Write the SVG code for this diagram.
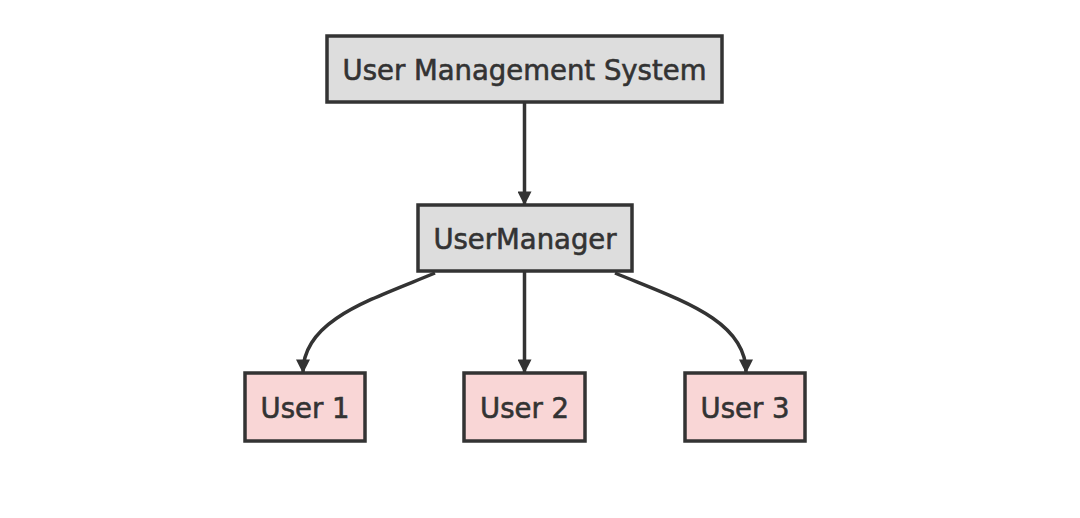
<svg xmlns="http://www.w3.org/2000/svg" width="1080" height="518" viewBox="0 0 1080 518">
<style>
.node rect{stroke:#333;stroke-width:3.5px}
.sys rect{fill:#ddd}
.usr rect{fill:#f9d6d6}
.node text{font-family:"DejaVu Sans",sans-serif;font-size:27.5px;fill:#333;stroke:#333;stroke-width:0.6px;text-anchor:middle;dominant-baseline:central}
.edges path{fill:none;stroke:#333;stroke-width:3.5px}
</style>
<defs>
<marker id="arr" viewBox="0 0 10 10" refX="9" refY="5" markerWidth="4" markerHeight="4" markerUnits="strokeWidth" orient="auto">
<path d="M0,0 L10,5 L0,10 z" fill="#333"/>
</marker>
</defs>
<rect width="1080" height="518" fill="#fff"/>
<g class="edges">
<path d="M524.5,103 L524.5,204" marker-end="url(#arr)"/>
<path d="M435,273 C370,300 303,320 303,372" marker-end="url(#arr)"/>
<path d="M524.5,272 L524.5,372" marker-end="url(#arr)"/>
<path d="M615,273 C680,300 746,320 746,372" marker-end="url(#arr)"/>
</g>
<g id="ums" class="node sys"><rect x="327" y="36" width="395" height="66"/><text x="524.5" y="70">User Management System</text></g>
<g id="um" class="node sys"><rect x="418" y="205" width="214" height="66"/><text x="525" y="239">UserManager</text></g>
<g id="u1" class="node usr"><rect x="245" y="373" width="120" height="68"/><text x="305" y="408">User 1</text></g>
<g id="u2" class="node usr"><rect x="464" y="373" width="121" height="68"/><text x="524.5" y="408">User 2</text></g>
<g id="u3" class="node usr"><rect x="685" y="373" width="120" height="68"/><text x="745" y="408">User 3</text></g>
</svg>
